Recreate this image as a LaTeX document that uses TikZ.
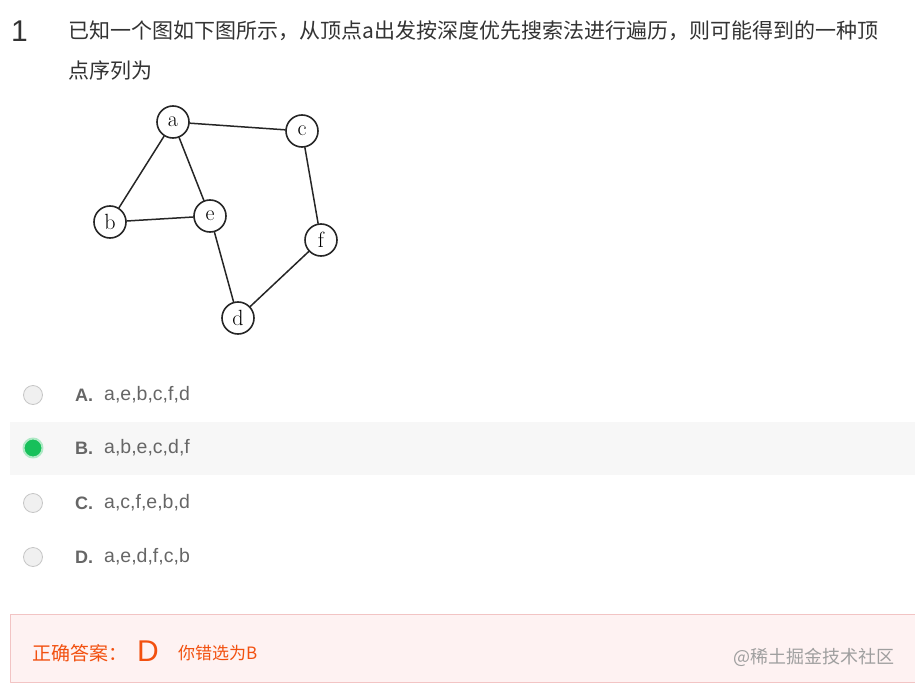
\documentclass[tikz,border=0pt]{standalone}
\usepackage{fontspec}
\setsansfont{Liberation Sans}
\newfontfamily\cjk{Noto Sans CJK SC}
\usetikzlibrary{positioning}

\definecolor{txtgray}{HTML}{333333}
\definecolor{optgray}{HTML}{666666}
\definecolor{rowbg}{HTML}{F7F7F7}
\definecolor{okgreen}{HTML}{17C05A}
\definecolor{ansred}{HTML}{F2500F}
\definecolor{ansbg}{HTML}{FEF2F2}
\definecolor{ansline}{HTML}{F2C4C4}

\begin{document}
\begin{tikzpicture}[line cap=round,line join=round,x=1pt,y=-1pt,
  vertex/.style={circle,draw=black!85,line width=1.6pt,minimum size=32pt,inner sep=0pt,font=\fontsize{22}{22}\selectfont},
  edge/.style={draw=black!85,line width=1.5pt},
  radio/.style={circle,draw=gray!45,fill=gray!12,line width=0.8pt,minimum size=19pt,inner sep=0pt},
  optkey/.style={anchor=west,text=optgray,inner sep=0pt,font=\sffamily\bfseries\fontsize{18}{18}\selectfont},
  opttext/.style={anchor=west,text=optgray,inner sep=0pt,font=\sffamily\fontsize{19.5}{19.5}\selectfont},
  qtext/.style={anchor=west,text=txtgray,inner sep=0pt,font=\cjk\fontsize{21}{21}\selectfont}]

\useasboundingbox (0,0) rectangle (915,687);

% question
\node[anchor=west,text=txtgray,inner sep=0pt,font=\sffamily\fontsize{30}{30}\selectfont] (num) at (11,31) {1};
\node[qtext] (q1) at (68,31) {已知一个图如下图所示，从顶点a出发按深度优先搜索法进行遍历，则可能得到的一种顶};
\node[qtext] (q2) at (68,71) {点序列为};

% graph
\node[vertex] (a) at (173,122) {a};
\node[vertex] (c) at (302,131) {c};
\node[vertex] (b) at (110,222) {b};
\node[vertex] (e) at (210,216) {e};
\node[vertex] (f) at (321,240) {f};
\node[vertex] (d) at (238,318) {d};

\draw[edge] (a) -- (c);
\draw[edge] (a) -- (b);
\draw[edge] (a) -- (e);
\draw[edge] (b) -- (e);
\draw[edge] (e) -- (d);
\draw[edge] (c) -- (f);
\draw[edge] (f) -- (d);

% options
\fill[rowbg] (10,422) rectangle (915,475);

\node[radio] (ra) at (33,395) {};
\node[optkey] (ka) at (75,395) {A.};
\node[opttext] (ta) at (104,395) {a,e,b,c,f,d};

\node[radio,draw=okgreen!35,fill=okgreen,line width=2pt] (rb) at (33,448) {};
\node[optkey] (kb) at (75,448) {B.};
\node[opttext] (tb) at (104,448) {a,b,e,c,d,f};

\node[radio] (rc) at (33,503) {};
\node[optkey] (kc) at (75,503) {C.};
\node[opttext] (tc) at (104,503) {a,c,f,e,b,d};

\node[radio] (rd) at (33,557) {};
\node[optkey] (kd) at (75,557) {D.};
\node[opttext] (td) at (104,557) {a,e,d,f,c,b};

% answer box
\draw[ansline,fill=ansbg,line width=0.8pt] (10,614) rectangle (925,682);
\node[anchor=west,text=ansred,inner sep=0pt,font=\cjk\fontsize{19}{19}\selectfont] (ans) at (32,653) {正确答案：};
\node[anchor=west,text=ansred,inner sep=0pt,font=\sffamily\fontsize{30}{30}\selectfont] (ansd) at (137,651) {D};
\node[anchor=west,text=ansred,inner sep=0pt,font=\cjk\fontsize{17}{17}\selectfont] (mine) at (178,653) {你错选为B};
\node[anchor=east,text=gray!75,inner sep=0pt,font=\cjk\fontsize{18}{18}\selectfont] (mark) at (895,657) {@稀土掘金技术社区};
\end{tikzpicture}
\end{document}
